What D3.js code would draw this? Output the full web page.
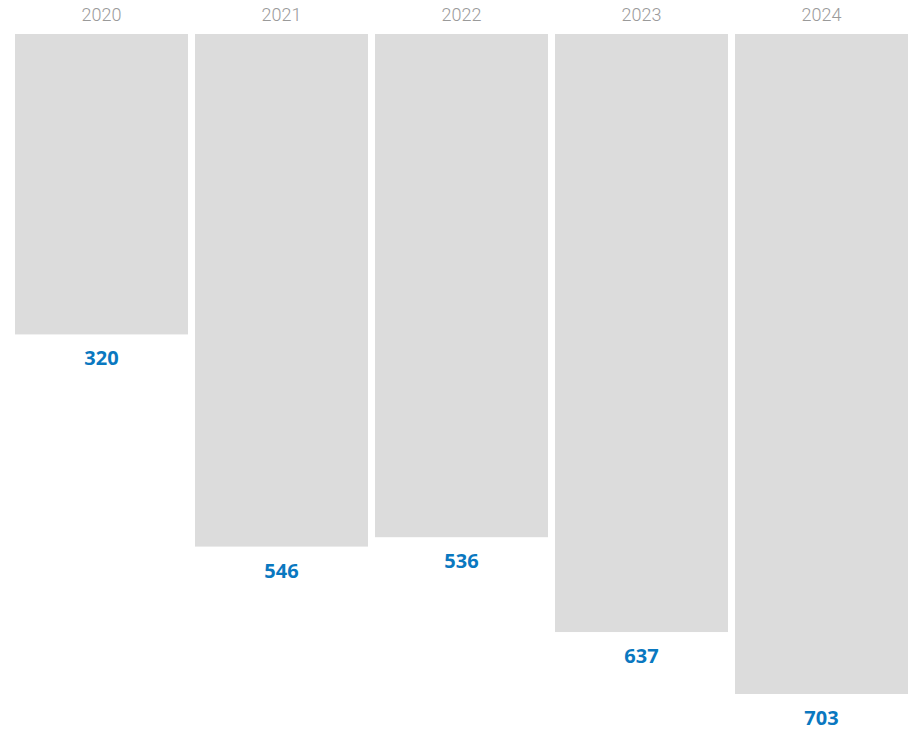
<!DOCTYPE html>
<html>
<head>
<meta charset="utf-8">
<script src="https://cdn.jsdelivr.net/npm/d3@7/dist/d3.min.js"></script>
<style>
  html, body { margin: 0; padding: 0; background: #ffffff; }
  svg { display: block; }
</style>
</head>
<body>
<svg id="chart" width="911" height="731"></svg>
<script>
// Yearly totals
const years = ["2020", "2021", "2022", "2023", "2024"];
const totals = [320, 546, 536, 637, 703];

const svg = d3.select("#chart");
const barTop = 34, barBottom = 694;

const x = d3.scaleBand()
  .domain(years)
  .range([15, 908])
  .paddingInner(0.039)
  .paddingOuter(0);

const y = d3.scaleLinear()
  .domain([0, d3.max(totals)])
  .range([barTop, barBottom]);

const data = years.map((yr, i) => ({ year: yr, value: totals[i] }));

// Bars hang down from the top line
svg.append("g")
  .selectAll("rect")
  .data(data)
  .join("rect")
  .attr("x", d => x(d.year))
  .attr("y", y(0))
  .attr("width", x.bandwidth())
  .attr("height", d => y(d.value) - y(0))
  .attr("fill", "#dcdcdc");

// Year headers
const xAxis = d3.axisTop(x).tickSize(0).tickPadding(0);
const ax = svg.append("g")
  .attr("transform", `translate(0,21)`)
  .call(xAxis);
ax.select(".domain").remove();
ax.selectAll("text")
  .attr("dy", 0)
  .attr("fill", "#9a9a9a")
  .style("font-family", "Roboto, 'Open Sans', sans-serif")
  .style("font-weight", 300)
  .style("font-size", "18px");

// Value labels under each bar
svg.append("g")
  .selectAll("text")
  .data(data)
  .join("text")
  .attr("x", d => x(d.year) + x.bandwidth() / 2)
  .attr("y", d => y(d.value) + 31)
  .attr("text-anchor", "middle")
  .attr("fill", "#0a78c0")
  .style("font-family", "'Noto Sans', 'Open Sans', sans-serif")
  .style("font-weight", 700)
  .style("font-size", "20px")
  .text(d => d.value);
</script>
</body>
</html>
